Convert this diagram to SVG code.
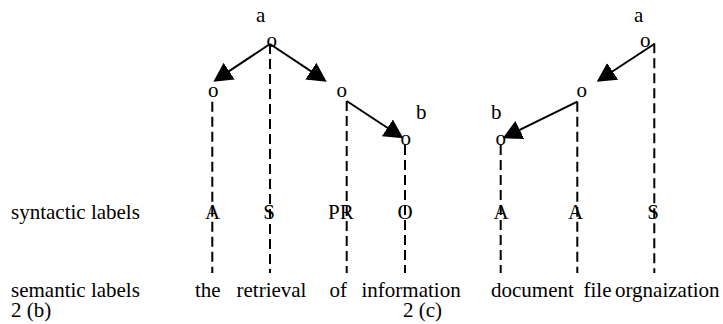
<svg xmlns="http://www.w3.org/2000/svg" width="723" height="324" viewBox="0 0 723 324">
  <style>
    text { font-family: "Liberation Serif", "Times New Roman", serif; font-size: 21px; fill: #000; }
    .mid { text-anchor: middle; }
    .link { stroke: #000; stroke-width: 2; fill: none; marker-end: url(#head); }
    .drop { stroke: #000; stroke-width: 2; fill: none; stroke-dasharray: 10 5; }
  </style>
  <defs>
    <marker id="head" viewBox="0 0 19 20" refX="14" refY="10" markerWidth="19" markerHeight="20" markerUnits="userSpaceOnUse" orient="auto">
      <path d="M0,0 L19,10 L0,20 z" fill="#000"/>
    </marker>
  </defs>

  <rect width="723" height="324" fill="#fff"/>

  <!-- vertical drop lines from tree nodes to the word row -->
  <g id="drops">
    <line class="drop" x1="212.3" y1="101.7" x2="212.3" y2="273"/>
    <line class="drop" x1="270" y1="44" x2="270" y2="273"/>
    <line class="drop" x1="346.7" y1="101" x2="346.7" y2="273"/>
    <line class="drop" x1="405" y1="145" x2="405" y2="273"/>
    <line class="drop" x1="500.7" y1="145" x2="500.7" y2="273"/>
    <line class="drop" x1="577.3" y1="101.7" x2="577.3" y2="273"/>
    <line class="drop" x1="654.3" y1="43.3" x2="654.3" y2="273"/>
  </g>

  <!-- dependency arrows -->
  <g id="connectors">
    <line class="link" x1="270" y1="44" x2="217.5" y2="78.9"/>
    <line class="link" x1="270" y1="44" x2="322.5" y2="78.9"/>
    <line class="link" x1="346.7" y1="101" x2="399.1" y2="135.5"/>
    <line class="link" x1="654.3" y1="44" x2="600.9" y2="79"/>
    <line class="link" x1="577.3" y1="101.7" x2="507.2" y2="136.1"/>
  </g>

  <!-- tree 2 (b) -->
  <g id="b-root">
    <text x="256" y="22">a</text>
    <text x="266.5" y="47">o</text>
  </g>
  <g id="b-left">
    <text x="208" y="96.7">o</text>
  </g>
  <g id="b-right">
    <text x="336.5" y="96.7">o</text>
  </g>
  <g id="b-leaf">
    <text x="416" y="119.3">b</text>
    <text x="400.5" y="145">o</text>
  </g>

  <!-- tree 2 (c) -->
  <g id="c-root">
    <text x="634" y="22">a</text>
    <text x="640" y="47">o</text>
  </g>
  <g id="c-mid">
    <text x="576.5" y="96.7">o</text>
  </g>
  <g id="c-leaf">
    <text x="491" y="119.3">b</text>
    <text x="495.5" y="145">o</text>
  </g>

  <!-- syntactic label row -->
  <g id="syntactic">
    <text x="11" y="219">syntactic labels</text>
    <text class="mid" x="212.5" y="219">A</text>
    <text class="mid" x="269" y="219">S</text>
    <text x="328" y="219">PR</text>
    <text class="mid" x="405" y="219">O</text>
    <text class="mid" x="501" y="219">A</text>
    <text class="mid" x="575.5" y="219">A</text>
    <text class="mid" x="653" y="219">S</text>
  </g>

  <!-- semantic label row -->
  <g id="semantic">
    <text x="11" y="297">semantic labels</text>
    <text x="195" y="297">the</text>
    <text x="236.5" y="297">retrieval</text>
    <text x="329.5" y="297">of</text>
    <text x="361.5" y="297">information</text>
    <text x="491" y="297">document</text>
    <text x="583.5" y="297">file</text>
    <text x="615" y="297">orgnaization</text>
  </g>

  <!-- captions -->
  <g id="captions">
    <text x="11" y="317">2 (b)</text>
    <text x="403" y="317">2 (c)</text>
  </g>
</svg>
